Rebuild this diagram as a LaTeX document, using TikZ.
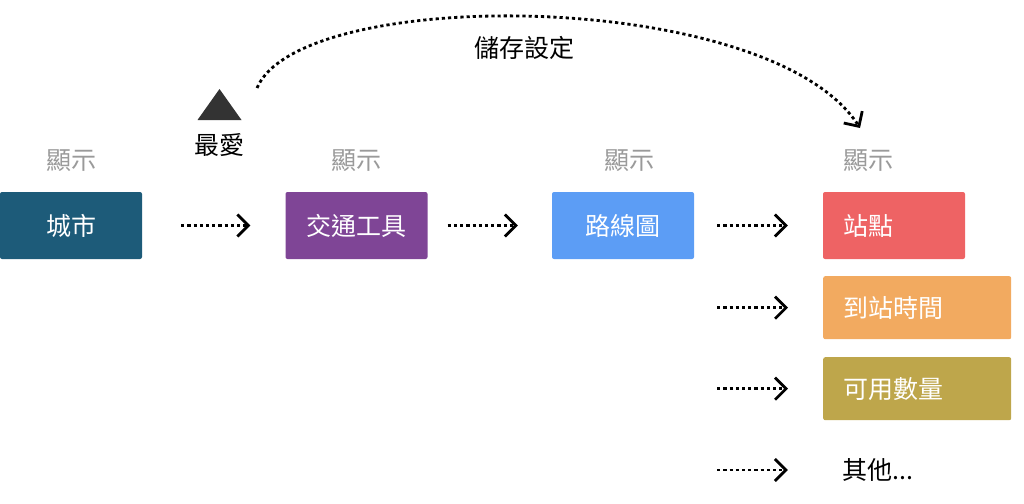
\documentclass[tikz,border=0pt]{standalone}
\usepackage{fontspec}
\setmainfont{Noto Sans CJK TC}
\usetikzlibrary{arrows.meta,positioning}

\definecolor{cityblue}{HTML}{1D5B79}
\definecolor{transitpurple}{HTML}{7F4596}
\definecolor{routeblue}{HTML}{5C9DF5}
\definecolor{stopred}{HTML}{EE6364}
\definecolor{arrivalorange}{HTML}{F2AA60}
\definecolor{amountolive}{HTML}{BEA64B}
\definecolor{labelgray}{HTML}{9A9A9A}
\definecolor{markgray}{HTML}{333333}

\begin{document}
\begin{tikzpicture}[x=1pt, y=-1pt, every node/.style={font=\fontsize{25}{28}\selectfont, inner sep=0pt},
	>={Straight Barb[length=11pt, width=22pt]}]
	\tikzset{
		box/.style={rounded corners=2pt, text=white, minimum width=142pt, minimum height=67pt},
		sidebox/.style={box, minimum height=63pt, align=left, inner xsep=20pt},
		caption/.style={text=labelgray, above=20pt of #1},
		flow/.style={->, line width=2.8pt, dash pattern=on 3.2pt off 3pt},
	}
	\useasboundingbox (0,0) rectangle (1024,503);

	% main chain
	\node[box, fill=cityblue] (city) at (71,225.5) {城市};
	\node[box, fill=transitpurple] (transit) at (356.5,225.5) {交通工具};
	\node[box, fill=routeblue] (route) at (623,225.5) {路線圖};
	\node[sidebox, minimum height=67pt, fill=stopred, text width=102pt] (stop) at (894,225.5) {站點};
	\node[sidebox, fill=arrivalorange, text width=148pt, anchor=north west] (arrival) at (823,276) {到站時間};
	\node[sidebox, fill=amountolive, text width=148pt, anchor=north west] (amount) at (823,357) {可用數量};
	\node[anchor=west] (other) at (842,470) {其他...};

	\node[caption=city] (citylbl) {顯示};
	\node[caption=transit] (transitlbl) {顯示};
	\node[caption=route, xshift=6pt] (routelbl) {顯示};
	\node[caption=stop, xshift=-26pt] (stoplbl) {顯示};

	\draw[flow, shorten <=39pt, shorten >=35pt] (city) -- (transit);
	\draw[flow, shorten <=20pt, shorten >=34pt] (transit) -- (route);
	\draw[flow, shorten <=23pt, shorten >=35pt] (route) -- (stop);
	\draw[flow, shorten <=23pt, shorten >=35pt] (route.east |- arrival) -- (arrival.west);
	\draw[flow, shorten <=23pt, shorten >=35pt] (route.east |- amount) -- (amount.west);
	\draw[flow, shorten <=23pt, shorten >=35pt] (route.east |- other) -- (other.west -| stop.west);

	% favourite and saved setting
	\fill[markgray] (197.5,120) -- (241.5,120) -- (219.5,89) -- cycle;
	\node (fav) at (219.5,145) {最愛};
	\coordinate (favstart) at (257,88);
	\coordinate (saveend) at (860,128);
	\draw[flow] (favstart) .. controls (300,-15) and (770,-12) .. (saveend);
	\node (save) at (524,48) {儲存設定};
\end{tikzpicture}
\end{document}
